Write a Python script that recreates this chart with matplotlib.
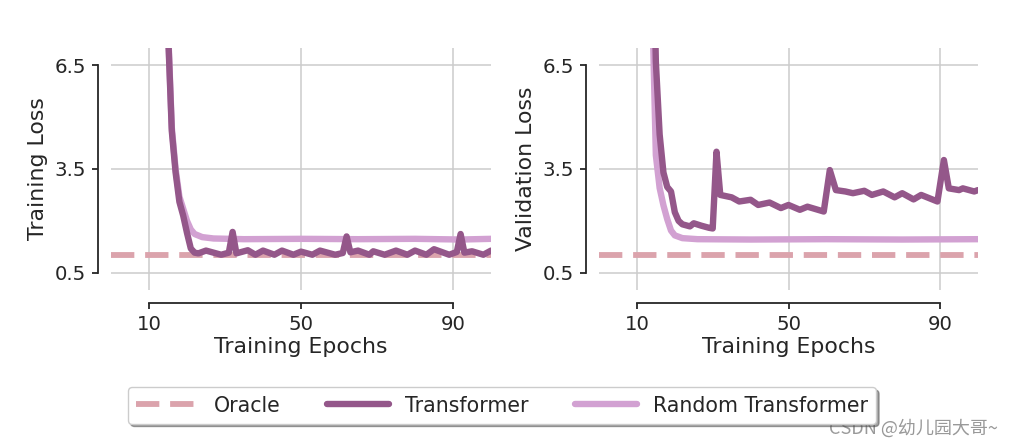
import numpy as np
import matplotlib
matplotlib.use("Agg")
import matplotlib.pyplot as plt
from matplotlib.lines import Line2D

# ---- data ----
oracle_loss = 1.0

train_tf_ep = [14, 15, 16, 17, 18, 19, 20, 21, 22, 23, 25, 29, 31, 32, 33, 36, 38, 40, 43, 45,
               48, 50, 53, 55, 59, 61, 62, 63, 65, 68, 69, 72, 75, 78, 80, 83, 85, 89, 91, 92,
               93, 95, 98, 100]
train_tf = [12.0, 7.5, 4.6, 3.4, 2.55, 2.15, 1.65, 1.2, 1.08, 1.06, 1.14, 1.02, 1.08, 1.68, 1.06, 1.15, 1.02, 1.14, 1.02, 1.14,
            1.02, 1.11, 1.02, 1.14, 1.02, 1.07, 1.55, 1.09, 1.14, 1.02, 1.12, 1.02, 1.14, 1.02, 1.14, 1.02, 1.18, 1.02, 1.1, 1.62,
            1.08, 1.12, 1.02, 1.14]

train_rand_ep = [14, 15, 16, 17, 18, 19, 20, 21, 22, 24, 27, 35, 50, 65, 80, 92, 100]
train_rand = [12.0, 7.6, 4.7, 3.5, 2.7, 2.35, 2.0, 1.75, 1.62, 1.53, 1.49, 1.47, 1.48, 1.47, 1.48, 1.46, 1.48]

val_tf_ep = [14, 15, 16, 17, 18, 19, 20, 21, 22, 24, 25, 27, 29, 30, 31, 32, 35, 37, 40, 42,
             45, 48, 50, 53, 55, 59.3, 60.9, 62.5, 65, 67, 70, 72, 75, 78, 80, 83, 85, 89.3, 91, 92.3,
             95, 96, 99, 100]
val_tf = [12.0, 6.6, 4.5, 3.4, 2.98, 2.85, 2.25, 2.0, 1.9, 1.84, 1.93, 1.86, 1.8, 1.78, 4.0, 2.75, 2.68, 2.56, 2.61, 2.46,
          2.53, 2.37, 2.46, 2.32, 2.41, 2.27, 3.47, 2.89, 2.85, 2.8, 2.87, 2.75, 2.85, 2.68, 2.8, 2.62, 2.75, 2.56, 3.76, 2.94,
          2.89, 2.94, 2.85, 2.89]

val_rand_ep = [13, 14, 15, 16, 17, 18, 19, 20, 22, 26, 40, 60, 80, 100]
val_rand = [12.0, 8.5, 3.9, 2.95, 2.45, 2.05, 1.72, 1.58, 1.5, 1.47, 1.46, 1.47, 1.46, 1.47]

xticks = [10, 50, 90]
yticks = [0.5, 3.5, 6.5]

c_oracle = '#dba3ac'
c_tf = '#94578a'
c_rand = '#d2a1d2'
txt = '#262626'

plt.rcParams['lines.solid_capstyle'] = 'round'
plt.rcParams['text.color'] = txt
plt.rcParams['axes.labelcolor'] = txt
plt.rcParams['xtick.color'] = txt
plt.rcParams['ytick.color'] = txt

fig = plt.figure(figsize=(10.21, 4.47), dpi=100)
W, H = 1021., 447.
ax1 = fig.add_axes([111/W, 1-290/H, 380/W, 242/H])
ax2 = fig.add_axes([599/W, 1-290/H, 379/W, 242/H])

lw = 4.6
for ax, (tf_x, tf_y, r_x, r_y), lab in [(ax1, (train_tf_ep, train_tf, train_rand_ep, train_rand), 'Training Loss'),
                                        (ax2, (val_tf_ep, val_tf, val_rand_ep, val_rand), 'Validation Loss')]:
  ax.axhline(oracle_loss, color=c_oracle, lw=4.2, dashes=(4, 1.85), zorder=2)
  ax.plot(r_x, r_y, color=c_rand, lw=lw, zorder=3)
  ax.plot(tf_x, tf_y, color=c_tf, lw=lw, zorder=4)
  ax.set_xlim(0, 100)
  ax.set_ylim(0, 7)
  ax.set_xticks(xticks)
  ax.set_yticks(yticks)
  ax.grid(True, color='#cccccc', lw=1.1)
  ax.set_axisbelow(True)
  for s in ['top', 'right']:
    ax.spines[s].set_visible(False)
  ax.spines['left'].set_position(('outward', 9.5))
  ax.spines['bottom'].set_position(('outward', 9.5))
  ax.spines['left'].set_bounds(yticks[0], yticks[-1])
  ax.spines['bottom'].set_bounds(xticks[0], xticks[-1])
  for s in ['left', 'bottom']:
    ax.spines[s].set_color(txt)
    ax.spines[s].set_linewidth(1.3)
  ax.tick_params(length=4.5, width=1.3, labelsize=14.2, pad=4)
  ax.set_xlabel('Training Epochs', fontsize=15.8, labelpad=2)
  ax.set_ylabel(lab, fontsize=15.8, labelpad=5)

handles = [Line2D([], [], color=c_oracle, lw=4.2, dashes=(4, 1.85)),
           Line2D([], [], color=c_tf, lw=lw),
           Line2D([], [], color=c_rand, lw=lw)]
leg = fig.legend(handles, ['Oracle', 'Transformer', 'Random Transformer'],
                 loc='center', bbox_to_anchor=(502/W, 1-405.5/H), ncol=3,
                 fontsize=14.8, handlelength=3.0, handletextpad=0.8, columnspacing=2.25,
                 frameon=True, fancybox=True, shadow=True, borderpad=0.4)
leg.get_frame().set_edgecolor('#cccccc')
leg.get_frame().set_linewidth(1.0)

fig.text(998/W, 1-428/H, 'CSDN @幼儿园大哥~', ha='right', va='center', fontsize=13,
         color='#999999', family=['Noto Sans CJK SC', 'DejaVu Sans'])

plt.savefig('out.png', dpi=100)
